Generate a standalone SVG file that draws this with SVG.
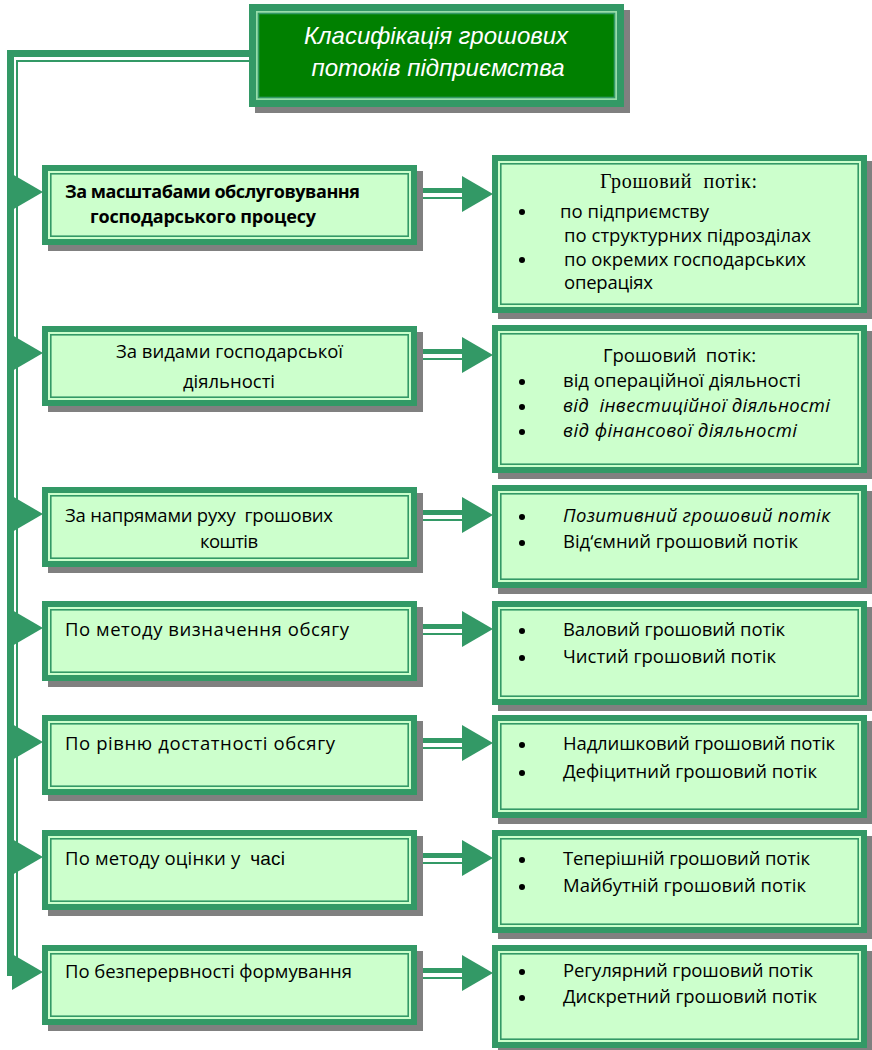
<svg xmlns="http://www.w3.org/2000/svg" width="872" height="1050" viewBox="0 0 872 1050">
  <style>
    .shadow { fill: #808080; }
    .frame { fill: #339966; }
    .gap { fill: #ccffcc; }
    .inner { fill: #ccffcc; stroke: #339966; stroke-width: 1.6; }
    .title-gap { fill: #99ddaa; }
    .title-inner { fill: #008000; stroke: #339966; stroke-width: 1.6; }
    .bar { fill: #339966; }
    .t { font-family: "Open Sans", "Liberation Sans", Arial, sans-serif; font-size: 18.5px; fill: #000; }
    .b { font-weight: bold; font-size: 18px; }
    .i { font-style: italic; }
    .serif { font-family: "Liberation Serif", "Times New Roman", serif; font-size: 20px; fill: #000; }
    .title { font-family: "Liberation Sans", Arial, sans-serif; font-size: 24px; font-style: italic; fill: #ffffff; }
    .dot { fill: #000; }
  </style>

  <!-- connectors: spine, top link, left arrowheads, row arrows -->
  <g id="connectors">
    <!-- top link from the title box -->
    <rect class="bar" x="7" y="50" width="243" height="7"/>
    <rect class="bar" x="16" y="60" width="234" height="2"/>
    <!-- vertical spine -->
    <rect class="bar" x="7" y="56" width="7" height="920"/>
    <rect class="bar" x="16" y="60" width="2" height="900"/>
    <!-- arrowheads into the left boxes -->
    <polygon class="bar" points="12,174 43,192 12,210"/>
    <polygon class="bar" points="12,335 43,353 12,371"/>
    <polygon class="bar" points="12,496 43,514 12,532"/>
    <polygon class="bar" points="12,610 43,628 12,646"/>
    <polygon class="bar" points="12,724 43,742 12,760"/>
    <polygon class="bar" points="12,839 43,857 12,875"/>
    <polygon class="bar" points="12,954 43,972 12,990"/>
    <!-- row arrows: double shaft + head -->
    <g>
      <rect class="bar" x="417" y="188" width="47" height="5"/>
      <rect class="bar" x="417" y="197" width="47" height="2"/>
      <polygon class="bar" points="462,176 493,194 462,212"/>
    </g>
    <g>
      <rect class="bar" x="417" y="349" width="47" height="5"/>
      <rect class="bar" x="417" y="358" width="47" height="2"/>
      <polygon class="bar" points="462,337 493,355 462,373"/>
    </g>
    <g>
      <rect class="bar" x="417" y="510" width="47" height="5"/>
      <rect class="bar" x="417" y="519" width="47" height="2"/>
      <polygon class="bar" points="462,497 493,515 462,533"/>
    </g>
    <g>
      <rect class="bar" x="417" y="624" width="47" height="5"/>
      <rect class="bar" x="417" y="633" width="47" height="2"/>
      <polygon class="bar" points="462,611 493,629 462,647"/>
    </g>
    <g>
      <rect class="bar" x="417" y="738" width="47" height="5"/>
      <rect class="bar" x="417" y="747" width="47" height="2"/>
      <polygon class="bar" points="462,725 493,743 462,761"/>
    </g>
    <g>
      <rect class="bar" x="417" y="853" width="47" height="5"/>
      <rect class="bar" x="417" y="862" width="47" height="2"/>
      <polygon class="bar" points="462,840 493,858 462,876"/>
    </g>
    <g>
      <rect class="bar" x="417" y="968" width="47" height="5"/>
      <rect class="bar" x="417" y="977" width="47" height="2"/>
      <polygon class="bar" points="462,955 493,973 462,991"/>
    </g>
  </g>

  <!-- title -->
  <g id="title">
    <rect class="shadow" x="255" y="10" width="375" height="103"/>
    <rect class="frame" x="249" y="4" width="375" height="103"/>
    <rect class="title-gap" x="256" y="11" width="361" height="89"/>
    <rect class="title-inner" x="258.5" y="13.5" width="356" height="84"/>
    <text class="title" x="436" y="44" text-anchor="middle" textLength="264">Класифікація грошових</text>
    <text class="title" x="438" y="76" text-anchor="middle" textLength="253">потоків підприємства</text>
  </g>

  <!-- row 1 -->
  <g id="left1">
    <rect class="shadow" x="48" y="171" width="375" height="80"/>
    <rect class="frame" x="42" y="165" width="375" height="80"/>
    <rect class="gap" x="48" y="171" width="363" height="68"/>
    <rect class="inner" x="50.8" y="173.8" width="357.4" height="62.4"/>
    <text class="t b" x="65" y="198" textLength="295">За масштабами обслуговування</text>
    <text class="t b" x="90" y="223" textLength="226">господарського процесу</text>
  </g>
  <g id="right1">
    <rect class="shadow" x="498" y="161" width="375" height="158"/>
    <rect class="frame" x="492" y="155" width="375" height="158"/>
    <rect class="gap" x="498" y="161" width="363" height="146"/>
    <rect class="inner" x="500.8" y="163.8" width="357.4" height="140.4"/>
    <text class="serif" x="600" y="188" textLength="157" xml:space="preserve">Грошовий  потік:</text>
    <circle class="dot" cx="522" cy="212" r="3"/>
    <text class="t" x="560" y="218" textLength="149">по підприємству</text>
    <text class="t" x="564" y="242" textLength="247">по структурних підрозділах</text>
    <circle class="dot" cx="522" cy="260" r="3"/>
    <text class="t" x="564" y="266" textLength="242">по окремих господарських</text>
    <text class="t" x="564" y="289" textLength="89">операціях</text>
  </g>

  <!-- row 2 -->
  <g id="left2">
    <rect class="shadow" x="48" y="332" width="375" height="80"/>
    <rect class="frame" x="42" y="326" width="375" height="80"/>
    <rect class="gap" x="48" y="332" width="363" height="68"/>
    <rect class="inner" x="50.8" y="334.8" width="357.4" height="62.4"/>
    <text class="t" x="116" y="358" textLength="227">За видами господарської</text>
    <text class="t" x="183" y="388" textLength="92">діяльності</text>
  </g>
  <g id="right2">
    <rect class="shadow" x="498" y="331" width="375" height="148"/>
    <rect class="frame" x="492" y="325" width="375" height="148"/>
    <rect class="gap" x="498" y="331" width="363" height="136"/>
    <rect class="inner" x="500.8" y="333.8" width="357.4" height="130.4"/>
    <text class="t" x="603" y="362" textLength="153" xml:space="preserve">Грошовий  потік:</text>
    <circle class="dot" cx="522" cy="382" r="3"/>
    <text class="t" x="563" y="387" textLength="238">від операційної діяльності</text>
    <circle class="dot" cx="522" cy="407" r="3"/>
    <text class="t i" x="563" y="412" textLength="267" xml:space="preserve">від  інвестиційної діяльності</text>
    <circle class="dot" cx="522" cy="432" r="3"/>
    <text class="t i" x="563" y="437" textLength="234">від фінансової діяльності</text>
  </g>

  <!-- row 3 -->
  <g id="left3">
    <rect class="shadow" x="48" y="493" width="375" height="80"/>
    <rect class="frame" x="42" y="487" width="375" height="80"/>
    <rect class="gap" x="48" y="493" width="363" height="68"/>
    <rect class="inner" x="50.8" y="495.8" width="357.4" height="62.4"/>
    <text class="t" x="65" y="522" textLength="268" xml:space="preserve">За напрямами руху  грошових</text>
    <text class="t" x="200" y="548" textLength="58">коштів</text>
  </g>
  <g id="right3">
    <rect class="shadow" x="498" y="491" width="375" height="103"/>
    <rect class="frame" x="492" y="485" width="375" height="103"/>
    <rect class="gap" x="498" y="491" width="363" height="91"/>
    <rect class="inner" x="500.8" y="493.8" width="357.4" height="85.4"/>
    <circle class="dot" cx="522" cy="517" r="3"/>
    <text class="t i" x="563" y="522" textLength="267">Позитивний грошовий потік</text>
    <circle class="dot" cx="522" cy="543" r="3"/>
    <text class="t" x="563" y="548" textLength="235">Від‘ємний грошовий потік</text>
  </g>

  <!-- row 4 -->
  <g id="left4">
    <rect class="shadow" x="48" y="607" width="375" height="80"/>
    <rect class="frame" x="42" y="601" width="375" height="80"/>
    <rect class="gap" x="48" y="607" width="363" height="68"/>
    <rect class="inner" x="50.8" y="609.8" width="357.4" height="62.4"/>
    <text class="t" x="65" y="636" textLength="284">По методу визначення обсягу</text>
  </g>
  <g id="right4">
    <rect class="shadow" x="498" y="607" width="375" height="104"/>
    <rect class="frame" x="492" y="601" width="375" height="104"/>
    <rect class="gap" x="498" y="607" width="363" height="92"/>
    <rect class="inner" x="500.8" y="609.8" width="357.4" height="86.4"/>
    <circle class="dot" cx="522" cy="631" r="3"/>
    <text class="t" x="563" y="636" textLength="222">Валовий грошовий потік</text>
    <circle class="dot" cx="522" cy="658" r="3"/>
    <text class="t" x="563" y="663" textLength="213">Чистий грошовий потік</text>
  </g>

  <!-- row 5 -->
  <g id="left5">
    <rect class="shadow" x="48" y="721" width="375" height="80"/>
    <rect class="frame" x="42" y="715" width="375" height="80"/>
    <rect class="gap" x="48" y="721" width="363" height="68"/>
    <rect class="inner" x="50.8" y="723.8" width="357.4" height="62.4"/>
    <text class="t" x="65" y="750" textLength="270">По рівню достатності обсягу</text>
  </g>
  <g id="right5">
    <rect class="shadow" x="498" y="721" width="375" height="103"/>
    <rect class="frame" x="492" y="715" width="375" height="103"/>
    <rect class="gap" x="498" y="721" width="363" height="91"/>
    <rect class="inner" x="500.8" y="723.8" width="357.4" height="85.4"/>
    <circle class="dot" cx="522" cy="745" r="3"/>
    <text class="t" x="563" y="750" textLength="272">Надлишковий грошовий потік</text>
    <circle class="dot" cx="522" cy="773" r="3"/>
    <text class="t" x="563" y="778" textLength="254">Дефіцитний грошовий потік</text>
  </g>

  <!-- row 6 -->
  <g id="left6">
    <rect class="shadow" x="48" y="836" width="375" height="80"/>
    <rect class="frame" x="42" y="830" width="375" height="80"/>
    <rect class="gap" x="48" y="836" width="363" height="68"/>
    <rect class="inner" x="50.8" y="838.8" width="357.4" height="62.4"/>
    <text class="t" x="65" y="865" textLength="220" xml:space="preserve">По методу оцінки у  <tspan font-family="Liberation Sans, Arial, sans-serif" font-size="19">часі</tspan></text>
  </g>
  <g id="right6">
    <rect class="shadow" x="498" y="836" width="375" height="103"/>
    <rect class="frame" x="492" y="830" width="375" height="103"/>
    <rect class="gap" x="498" y="836" width="363" height="91"/>
    <rect class="inner" x="500.8" y="838.8" width="357.4" height="85.4"/>
    <circle class="dot" cx="522" cy="860" r="3"/>
    <text class="t" x="563" y="865" textLength="247">Теперішній грошовий потік</text>
    <circle class="dot" cx="522" cy="887" r="3"/>
    <text class="t" x="563" y="892" textLength="243">Майбутній грошовий потік</text>
  </g>

  <!-- row 7 -->
  <g id="left7">
    <rect class="shadow" x="48" y="951" width="375" height="80"/>
    <rect class="frame" x="42" y="945" width="375" height="80"/>
    <rect class="gap" x="48" y="951" width="363" height="68"/>
    <rect class="inner" x="50.8" y="953.8" width="357.4" height="62.4"/>
    <text class="t" x="65" y="978" textLength="287">По безперервності формування</text>
  </g>
  <g id="right7">
    <rect class="shadow" x="498" y="951" width="375" height="103"/>
    <rect class="frame" x="492" y="945" width="375" height="103"/>
    <rect class="gap" x="498" y="951" width="363" height="91"/>
    <rect class="inner" x="500.8" y="953.8" width="357.4" height="85.4"/>
    <circle class="dot" cx="522" cy="972" r="3"/>
    <text class="t" x="563" y="977" textLength="250">Регулярний грошовий потік</text>
    <circle class="dot" cx="522" cy="998" r="3"/>
    <text class="t" x="563" y="1003" textLength="254">Дискретний грошовий потік</text>
  </g>
</svg>
